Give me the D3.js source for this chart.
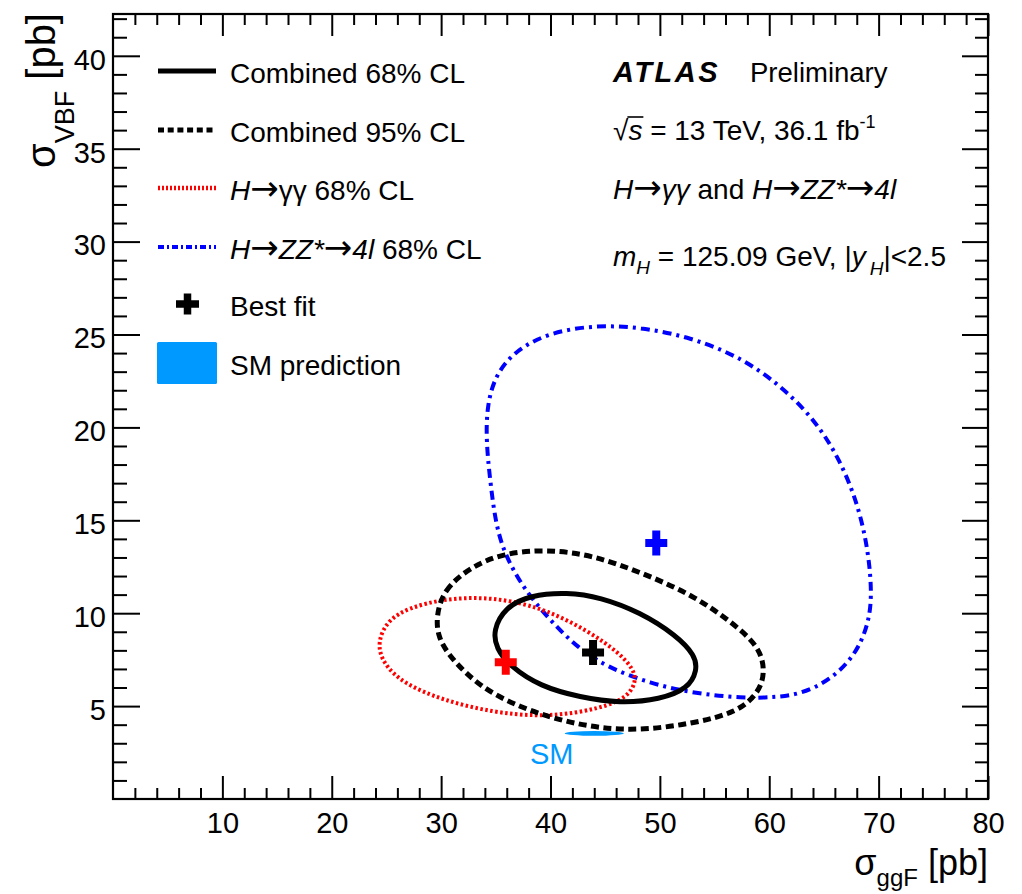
<!DOCTYPE html>
<html>
<head>
<meta charset="utf-8">
<script src="https://cdn.jsdelivr.net/npm/d3@7"></script>
<style>
  html, body { margin: 0; padding: 0; background: #fff; }
  svg { display: block; font-family: "Liberation Sans", Arial, Helvetica, sans-serif; }
</style>
</head>
<body>
<svg id="chart" width="1022" height="894"></svg>
<script>
// ---------------- data ----------------
const xTickLabels = [10, 20, 30, 40, 50, 60, 70, 80];
const yTickLabels = [5, 10, 15, 20, 25, 30, 35, 40];

// Likelihood contours in (sigma_ggF, sigma_VBF) [pb]
const combined68 = [
  [34.75, 9.08], [35.85, 10.32], [38.14, 10.97], [41.52, 11.13], [44.54, 10.86],
  [48.20, 10.05], [51.49, 8.81], [53.23, 7.73], [53.41, 6.92], [52.59, 5.95],
  [50.03, 5.36], [46.37, 5.15], [42.71, 5.47], [39.05, 6.06], [36.31, 7.14], [35.03, 8.11]
];
const combined95 = [
  [29.54, 9.78], [30.18, 11.24], [32.65, 12.48], [35.67, 13.23], [39.69, 13.44],
  [43.90, 13.12], [48.47, 12.15], [53.05, 10.97], [56.70, 9.46], [59.17, 8.16],
  [59.63, 6.76], [58.99, 5.69], [57.07, 4.66], [53.05, 4.07], [48.47, 3.70],
  [44.54, 3.80], [40.88, 4.23], [37.22, 4.93], [33.56, 6.01], [30.82, 7.62], [29.72, 8.70]
];
const gamgam68 = [
  [24.14, 8.38], [25.06, 9.62], [27.16, 10.32], [30.18, 10.75], [33.29, 10.86],
  [36.31, 10.69], [39.69, 10.16], [43.35, 9.08], [46.37, 7.84], [47.92, 6.76],
  [47.56, 5.85], [46.09, 5.15], [42.44, 4.61], [38.78, 4.45], [34.75, 4.66],
  [30.18, 5.31], [26.52, 6.22], [24.69, 7.30]
];
const zz4l68 = [
  [44.08, 25.50], [48.20, 25.40], [52.77, 24.86], [57.34, 23.79], [61.00, 22.28],
  [64.20, 20.39], [66.49, 18.24], [68.13, 15.82], [69.05, 13.39], [69.41, 10.97],
  [69.05, 9.35], [67.86, 7.73], [65.58, 6.39], [62.83, 5.63], [60.36, 5.47],
  [57.62, 5.42], [53.05, 5.69], [49.11, 6.22], [45.18, 7.09], [42.44, 8.16],
  [40.24, 9.46], [38.41, 10.69], [36.95, 11.93], [35.67, 13.39], [34.94, 15.00],
  [34.48, 17.15], [34.11, 19.31], [34.20, 21.19], [34.94, 22.80], [36.77, 24.15],
  [39.97, 25.12]
];

// Best-fit points: combined, H->gamgam, H->ZZ*->4l
const bestFitX = [43.89, 35.91, 49.67];
const bestFitY = [7.88, 7.36, 13.78];
const bestFitColor = ["#000000", "#ff0000", "#0000ff"];

// SM prediction with its uncertainty
const smGgF = 44.0, smGgFErr = 2.7;
const smVBF = 3.53, smVBFErr = 0.13;

// ---------------- layout ----------------
const svg = d3.select("#chart");
const x = d3.scaleLinear().domain([0, 80]).range([113, 988]);
const y = d3.scaleLinear().domain([0, 42.25]).range([799, 14]);

const BLUE_SM = "#0099ff";
const TICK_FS = 29;
const ARROW = { t: "→", font: "DejaVu Sans", fs: 34 };

// clip for plot contents
svg.append("defs").append("clipPath").attr("id", "plotClip")
  .append("rect").attr("x", 113).attr("y", 14).attr("width", 875).attr("height", 785);

// ---------------- axes ----------------
const xMinor = d3.range(2, 80, 2).filter(v => v % 10 !== 0);
const yMinor = d3.range(1, 43, 1).filter(v => v % 5 !== 0);

function styleAxis(g) {
  g.select(".domain").remove();
  g.selectAll(".tick line").attr("stroke", "#000").attr("stroke-width", 2);
  g.attr("font-family", null).attr("font-size", TICK_FS);
  g.selectAll(".tick text").attr("fill", "#000");
}

// bottom
svg.append("g").attr("transform", "translate(0,799)")
  .call(d3.axisBottom(x).tickValues(xTickLabels).tickSizeInner(-23).tickSizeOuter(0).tickPadding(13).tickFormat(d3.format("d")))
  .call(styleAxis);
svg.append("g").attr("transform", "translate(0,799)")
  .call(d3.axisBottom(x).tickValues(xMinor).tickSizeInner(-11).tickSizeOuter(0).tickFormat(""))
  .call(styleAxis);
// top
svg.append("g").attr("transform", "translate(0,14)")
  .call(d3.axisTop(x).tickValues(xTickLabels).tickSizeInner(-22).tickSizeOuter(0).tickFormat(""))
  .call(styleAxis);
svg.append("g").attr("transform", "translate(0,14)")
  .call(d3.axisTop(x).tickValues(xMinor).tickSizeInner(-11).tickSizeOuter(0).tickFormat(""))
  .call(styleAxis);
// left
const leftAxis = svg.append("g").attr("transform", "translate(113,0)")
  .call(d3.axisLeft(y).tickValues(yTickLabels).tickSizeInner(-27).tickSizeOuter(0).tickPadding(7).tickFormat(d3.format("d")))
  .call(styleAxis);
leftAxis.selectAll(".tick text").attr("dy", "0.46em");
svg.append("g").attr("transform", "translate(113,0)")
  .call(d3.axisLeft(y).tickValues(yMinor).tickSizeInner(-14).tickSizeOuter(0).tickFormat(""))
  .call(styleAxis);
// right
svg.append("g").attr("transform", "translate(988,0)")
  .call(d3.axisRight(y).tickValues(yTickLabels).tickSizeInner(-26).tickSizeOuter(0).tickFormat(""))
  .call(styleAxis);
svg.append("g").attr("transform", "translate(988,0)")
  .call(d3.axisRight(y).tickValues(yMinor).tickSizeInner(-13).tickSizeOuter(0).tickFormat(""))
  .call(styleAxis);

// frame
svg.append("rect").attr("x", 113).attr("y", 14).attr("width", 875).attr("height", 785)
  .attr("fill", "none").attr("stroke", "#000").attr("stroke-width", 2.2);

// ---------------- contours ----------------
const plot = svg.append("g").attr("clip-path", "url(#plotClip)");
const contourLine = d3.line().x(d => x(d[0])).y(d => y(d[1]))
  .curve(d3.curveBasisClosed);

const contours = [
  { pts: zz4l68, color: "#0000ff", width: 4, dash: "9,5,3,5" },
  { pts: gamgam68, color: "#ff0000", width: 4, dash: "2.5,2.5" },
  { pts: combined95, color: "#000000", width: 5, dash: "8,4.5" },
  { pts: combined68, color: "#000000", width: 5, dash: null }
];
contours.forEach(c => {
  plot.append("path").attr("d", contourLine(c.pts))
    .attr("fill", "none").attr("stroke", c.color).attr("stroke-width", c.width)
    .attr("stroke-dasharray", c.dash).attr("stroke-linejoin", "round");
});

// SM prediction
plot.append("ellipse")
  .attr("cx", x(smGgF)).attr("cy", y(smVBF))
  .attr("rx", x(smGgF + smGgFErr) - x(smGgF))
  .attr("ry", y(smVBF) - y(smVBF + smVBFErr))
  .attr("fill", BLUE_SM);
svg.append("text").attr("x", 530).attr("y", 764).attr("font-size", 29)
  .attr("fill", BLUE_SM).text("SM");

// cross marker
function plus(cx, cy, w, h, t) {
  const a = w / 2, b = h / 2, c = t / 2;
  return `M${cx - c},${cy - b}H${cx + c}V${cy - c}H${cx + a}V${cy + c}H${cx + c}V${cy + b}H${cx - c}V${cy + c}H${cx - a}V${cy - c}H${cx - c}Z`;
}
bestFitX.forEach((bx, i) => {
  plot.append("path").attr("d", plus(x(bx), y(bestFitY[i]), 22, 25, 8))
    .attr("fill", bestFitColor[i]);
});

// ---------------- rich text helper ----------------
function rich(g, x0, y0, fs, parts) {
  const t = g.append("text").attr("x", x0).attr("y", y0).attr("font-size", fs).attr("fill", "#000");
  parts.forEach(p => {
    const s = t.append("tspan").text(p.t);
    if (p.i) s.attr("font-style", "italic");
    if (p.b) s.attr("font-weight", "bold");
    if (p.fs) s.attr("font-size", p.fs);
    if (p.font) s.attr("font-family", p.font);
    if (p.dy) s.attr("dy", p.dy);
    if (p.dx) s.attr("dx", p.dx);
  });
  return t;
}

// ---------------- legend ----------------
const legendRows = [71, 130, 188, 247, 304, 363];
const legend = svg.append("g");
const legendLines = [
  { color: "#000", width: 5, dash: null },
  { color: "#000", width: 5, dash: "6,3.7" },
  { color: "#ff0000", width: 4.5, dash: "2,2" },
  { color: "#0000ff", width: 4, dash: "6,3,2,3" }
];
legendLines.forEach((l, i) => {
  legend.append("line").attr("x1", 158).attr("x2", 216)
    .attr("y1", legendRows[i]).attr("y2", legendRows[i])
    .attr("stroke", l.color).attr("stroke-width", l.width).attr("stroke-dasharray", l.dash);
});
legend.append("path").attr("d", plus(187.5, legendRows[4], 23, 21, 7.5)).attr("fill", "#000");
legend.append("rect").attr("x", 157).attr("y", legendRows[5] - 21).attr("width", 60).attr("height", 42)
  .attr("rx", 1.5).attr("fill", BLUE_SM);

const legendText = [
  [{ t: "Combined 68% CL" }],
  [{ t: "Combined 95% CL" }],
  [{ t: "H", i: true }, ARROW, { t: "γγ 68% CL" }],
  [{ t: "H", i: true }, ARROW, { t: "ZZ*", i: true }, ARROW, { t: "4l", i: true }, { t: " 68% CL" }],
  [{ t: "Best fit" }],
  [{ t: "SM prediction" }]
];
legendText.forEach((parts, i) => rich(legend, 230, legendRows[i] + 12, 28, parts));

// ---------------- labels ----------------
const info = svg.append("g");
info.append("text").attr("x", 613).attr("y", 82).attr("font-size", 29)
  .attr("font-weight", "bold").attr("font-style", "italic").attr("letter-spacing", 2.5).text("ATLAS");
info.append("text").attr("x", 750).attr("y", 82).attr("font-size", 27.5).text("Preliminary");

const sqrtLine = rich(info, 613, 140, 28, [
  { t: "√" }, { t: "s", i: true }, { t: " = 13 TeV, 36.1 fb" },
  { t: "-1", fs: 18, dy: -12 }
]);
{
  const e = sqrtLine.node().getExtentOfChar(1);
  const e0 = sqrtLine.node().getExtentOfChar(0);
  info.append("line").attr("x1", e0.x + e0.width - 1).attr("x2", e.x + e.width + 1)
    .attr("y1", 140 - 23).attr("y2", 140 - 23).attr("stroke", "#000").attr("stroke-width", 1.6);
}
rich(info, 613, 199, 28, [
  { t: "H", i: true }, ARROW, { t: "γγ", i: true }, { t: " and " },
  { t: "H", i: true }, ARROW, { t: "ZZ*", i: true }, ARROW, { t: "4l", i: true }
]);
rich(info, 613, 266, 28, [
  { t: "m", i: true }, { t: "H", i: true, fs: 19, dy: 8 },
  { t: " = 125.09 GeV, |", dy: -8 }, { t: "y", i: true },
  { t: "H", i: true, fs: 19, dy: 9, dx: 4 }, { t: "|<2.5", dy: -9 }
]);

// axis titles
rich(svg, 988, 875, 36, [
  { t: "σ" }, { t: "ggF", fs: 24, dy: 11 }, { t: " [pb]", dy: -11 }
]).attr("text-anchor", "end");

const yTitle = svg.append("g").attr("transform", "translate(55,13) rotate(-90)");
rich(yTitle, 0, 0, 40, [
  { t: "σ" }, { t: "VBF", fs: 27, dy: 19 }, { t: " [pb]", dy: -19 }
]).attr("text-anchor", "end");
</script>
</body>
</html>
